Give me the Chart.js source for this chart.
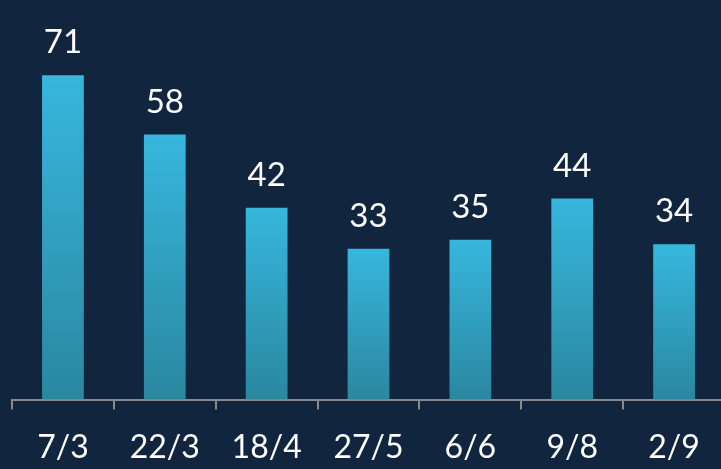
<!DOCTYPE html>
<html lang="en">
<head>
  <meta charset="UTF-8">
  <title>Bar chart</title>
  <script src="https://cdn.jsdelivr.net/npm/chart.js"></script>
  <style>
    html, body { margin: 0; padding: 0; background: #11253f; overflow: hidden; }
    #wrap { width: 740px; height: 486px; }
  </style>
</head>
<body>
  <div id="wrap"><canvas id="barChart"></canvas></div>

  <script>
    const dates = ['7/3', '22/3', '18/4', '27/5', '6/6', '9/8', '2/9'];
    const counts = [71, 58, 42, 33, 35, 44, 34];

    // value labels above the bars
    const valueLabels = {
      id: 'valueLabels',
      afterDatasetsDraw(chart) {
        const ctx = chart.ctx;
        const meta = chart.getDatasetMeta(0);
        ctx.save();
        ctx.fillStyle = '#ffffff';
        ctx.font = '33px Lato';
        ctx.textAlign = 'center';
        ctx.textBaseline = 'alphabetic';
        meta.data.forEach((bar, i) => {
          ctx.fillText(counts[i], bar.x, bar.y - 22);
        });
        ctx.restore();
      }
    };

    new Chart(document.getElementById('barChart'), {
      type: 'bar',
      data: {
        labels: dates,
        datasets: [{
          data: counts,
          barPercentage: 0.82,
          categoryPercentage: 0.5,
          backgroundColor: function(c) {
            const chart = c.chart;
            if (!chart.chartArea || !chart.scales.y) return '#31a5c8';
            const y = chart.scales.y;
            const top = y.getPixelForValue(counts[c.dataIndex]);
            const bottom = y.getPixelForValue(0);
            const g = chart.ctx.createLinearGradient(0, top, 0, bottom);
            g.addColorStop(0, '#37b7dd');
            g.addColorStop(1, '#2a87a0');
            return g;
          }
        }]
      },
      plugins: [valueLabels],
      options: {
        responsive: true,
        maintainAspectRatio: false,
        animation: false,
        layout: { padding: { top: 34, left: 12, right: 15, bottom: 0 } },
        plugins: { legend: { display: false }, tooltip: { enabled: false } },
        scales: {
          y: { display: false, min: 0, max: 80 },
          x: {
            border: { color: '#8a8a8a', width: 2 },
            grid: { drawOnChartArea: false, drawTicks: true, tickLength: 10, color: '#8a8a8a', lineWidth: 2 },
            ticks: { color: '#ffffff', font: { family: 'Lato', size: 32 }, padding: 19, maxRotation: 0 }
          }
        }
      }
    });
  </script>
</body>
</html>
